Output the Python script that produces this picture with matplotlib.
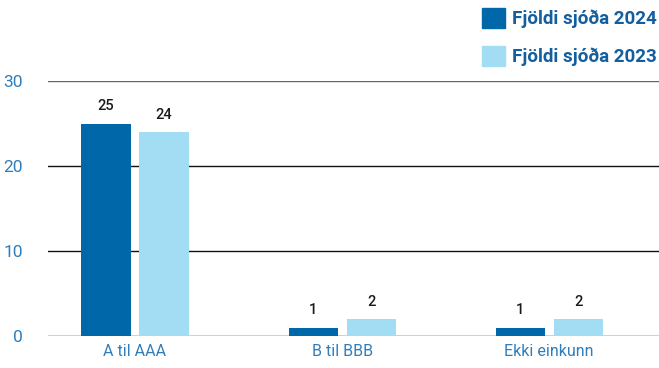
import matplotlib
matplotlib.use("Agg")
import matplotlib.pyplot as plt
from matplotlib.patches import Patch
import numpy as np

categories = ["A til AAA", "B til BBB", "Ekki einkunn"]
series_2024 = [25, 1, 1]
series_2023 = [24, 2, 2]
series_names = ["Fjöldi sjóða 2024", "Fjöldi sjóða 2023"]
yticks = [0, 10, 20, 30]

c24 = "#0068A9"
c23 = "#A3DDF4"
tick_col = "#2F7DBA"
leg_col = "#135E9E"

plt.rcParams["font.family"] = ["Roboto", "DejaVu Sans"]

fig = plt.figure(figsize=(6.59, 3.68), dpi=100)
ax = fig.add_axes([48/659, 1-336/368, 1-48/659, (336-81)/368])

x = np.arange(len(categories))
w = 0.237
off = 0.14
b1 = ax.bar(x - off, series_2024, w, color=c24, zorder=3)
b2 = ax.bar(x + off, series_2023, w, color=c23, zorder=3)
for bars in (b1, b2):
    for r in bars:
        ax.text(r.get_x() + r.get_width()/2, r.get_height() + 1.2, f"{int(r.get_height())}",
                ha="center", va="bottom", fontsize=10.5, fontweight="medium",
                color="#1a1a1a", zorder=4)

ax.set_xlim(-0.42, 2.53)
ax.set_ylim(0, 30)
ax.set_yticks(yticks)
ax.set_yticklabels([str(t) for t in yticks], color=tick_col, fontsize=12.5)
ax.set_xticks(x)
ax.set_xticklabels(categories, color=tick_col, fontsize=11.5)
ax.tick_params(axis="both", length=0, pad=6)
ax.tick_params(axis="y", pad=18)
for s in ax.spines.values():
    s.set_visible(False)
for t in yticks:
    ax.axhline(t, color="#666666" if t == 30 else "#111111", lw=1.0, zorder=2)

handles = [Patch(color=c24), Patch(color=c23)]
leg = fig.legend(handles, series_names, loc="upper right", bbox_to_anchor=(1.022, 1.025),
                 frameon=False, handlelength=1.25, handleheight=1.25, handletextpad=0.35,
                 labelspacing=0.95, prop={"weight": "bold", "size": 13.5})
for t in leg.get_texts():
    t.set_color(leg_col)

fig.savefig("out.png", dpi=100)
